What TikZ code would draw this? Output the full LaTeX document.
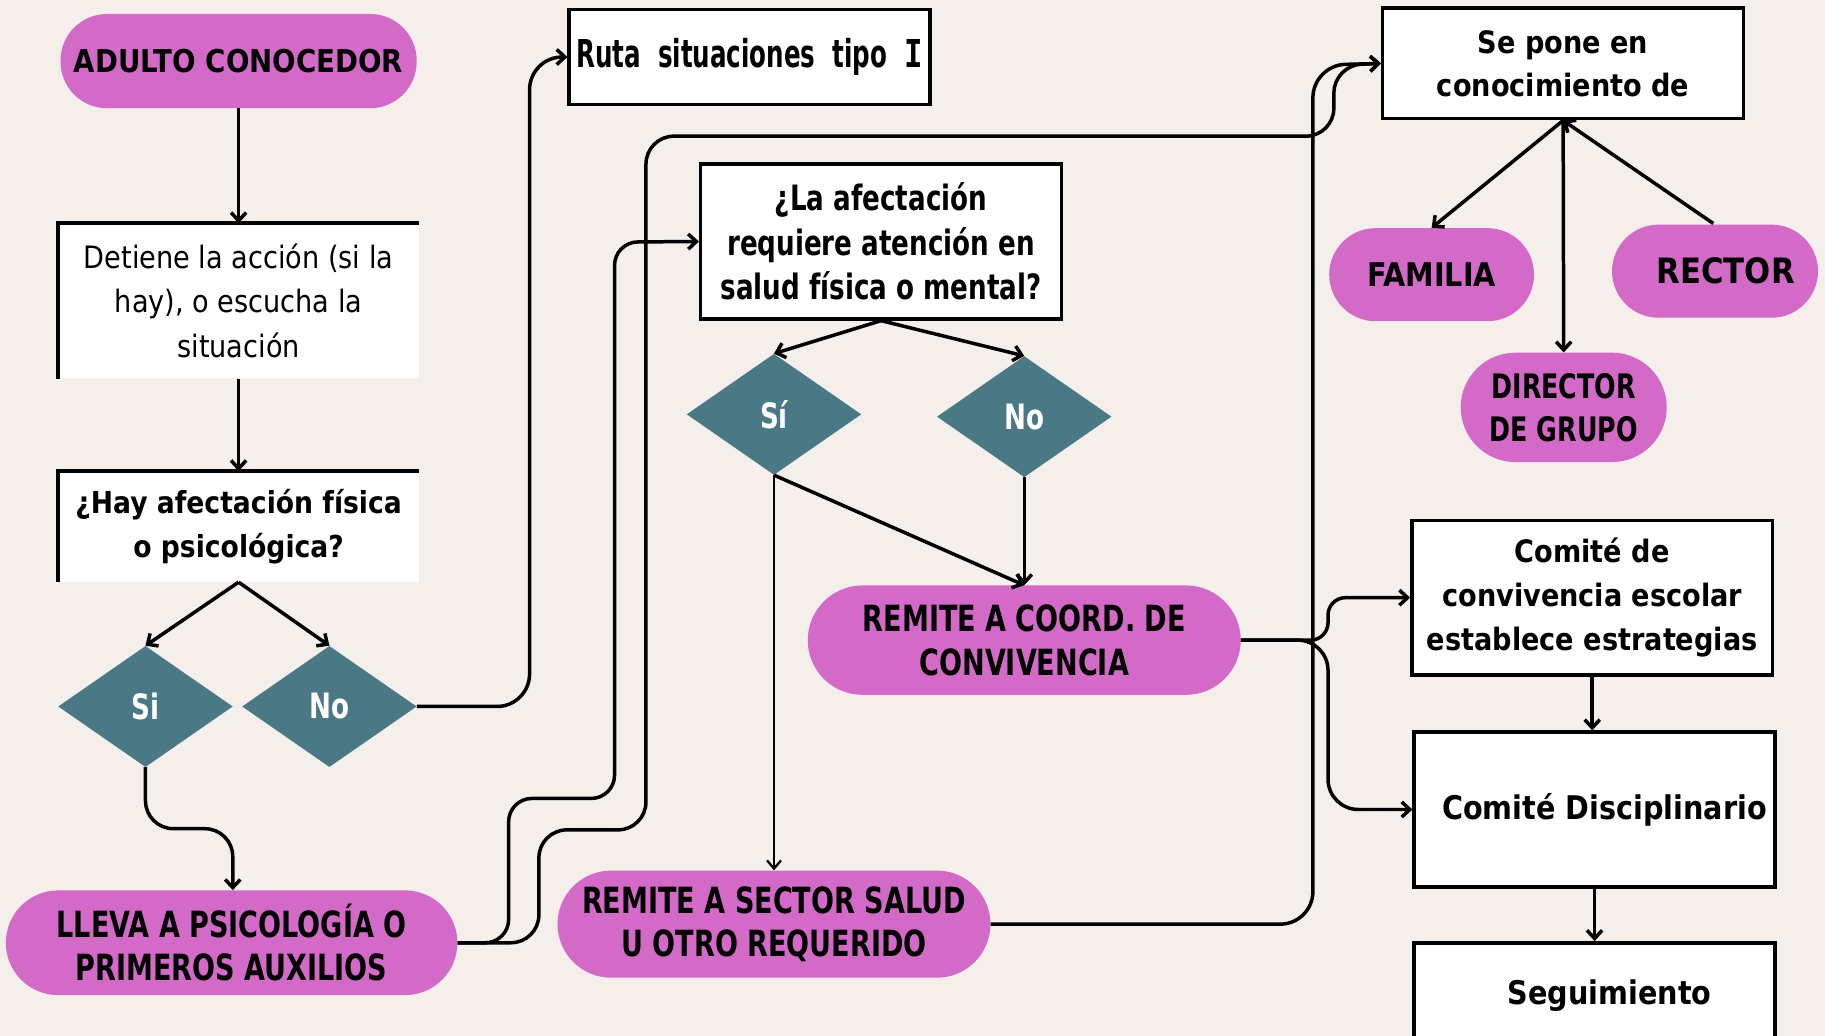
\documentclass[tikz,border=0pt]{standalone}
\usepackage{fontspec}
\setmainfont{DejaVu Sans}
\newfontfamily\fS[FakeStretch=0.64]{DejaVu Sans}
\newfontfamily\fC[FakeStretch=0.75]{DejaVu Sans}
\newfontfamily\fM[FakeStretch=0.88]{DejaVu Sans}
\newfontfamily\fmono[FakeStretch=0.8]{DejaVu Sans Mono}
\newcommand\fz[2]{\fontsize{#1}{#2}\selectfont}
\usetikzlibrary{shapes.geometric,arrows.meta,calc}
\definecolor{bgc}{HTML}{F4EFEB}
\definecolor{pinkc}{HTML}{D46AC7}
\definecolor{tealc}{HTML}{4A7884}
\begin{document}
\begin{tikzpicture}[x=1pt,y=-1pt,
  every node/.style={inner sep=0pt, align=center},
  pill/.style={fill=pinkc, rounded corners=40pt},
  wbox/.style={fill=white, draw=black, line width=3pt},
  dia/.style={diamond, fill=tealc, text=white, minimum width=150pt, minimum height=104pt, font=\fC\bfseries\fz{30}{34}},
  conn/.style={line width=3pt, -{Straight Barb[length=7pt,width=13pt]}},
  thinconn/.style={line width=2pt, -{Straight Barb[length=7pt,width=12pt]}},
  plain/.style={line width=3pt},
]
\useasboundingbox (0,0) rectangle (1568,890);
\fill[bgc] (0,0) rectangle (1568,890);

% left column
\node[pill, minimum width=306pt, minimum height=81pt, font=\fM\bfseries\fz{27}{30}] (adulto) at (205,52.5) {ADULTO CONOCEDOR};
\node[fill=white, minimum width=310pt, minimum height=133pt, font=\fM\fz{26.5}{38}] (det) at (205,258.5) {Detiene la acción (si la\\hay), o escucha la\\situación};
\draw[plain] (det.south west) -- (det.north west) -- (det.north east);
\node[fill=white, minimum width=310pt, minimum height=95pt, font=\fM\bfseries\fz{26}{38}] (hay) at (205,452.5) {¿Hay afectación física\\o psicológica?};
\draw[plain] (hay.south west) -- (hay.north west) -- (hay.north east);
\node[dia] (si1) at (125,607) {Si};
\node[dia] (no1) at (283,607) {No};
\node[pill, minimum width=388pt, minimum height=90pt, rounded corners=45pt, font=\fC\bfseries\fz{31}{37}] (lleva) at (199,810) {LLEVA A PSICOLOGÍA O\\PRIMEROS AUXILIOS};

% middle column
\node[wbox, minimum width=310pt, minimum height=82pt, font=\fS\bfseries\fz{33}{36}] (ruta) at (644,49) {Ruta\ \ situaciones\ \ tipo\ \ {\fmono\bfseries I}};
\node[wbox, minimum width=310pt, minimum height=133pt, font=\fC\bfseries\fz{30}{38}] (lafect) at (757,207.5) {¿La afectación\\requiere atención en\\salud física o mental?};
\node[dia] (si2) at (665,356) {Sí};
\node[dia] (no2) at (880,358) {No};
\node[pill, minimum width=372pt, minimum height=94pt, rounded corners=47pt, font=\fC\bfseries\fz{31}{38}] (coord) at (880,550) {REMITE A COORD. DE\\CONVIVENCIA};
\node[pill, minimum width=372pt, minimum height=92pt, rounded corners=46pt, font=\fC\bfseries\fz{31}{37}] (sector) at (665,794) {REMITE A SECTOR SALUD\\U OTRO REQUERIDO};

% right column
\node[wbox, minimum width=310pt, minimum height=95pt, font=\fM\bfseries\fz{26.5}{37}] (sepone) at (1343,54.5) {Se pone en\\conocimiento de};
\node[pill, minimum width=176pt, minimum height=80pt, font=\fM\bfseries\fz{28}{30}] (familia) at (1230,236) {FAMILIA};
\node[pill, minimum width=177pt, minimum height=80pt, font=\fM\bfseries\fz{30}{32}] (rector) at (1473.5,233) {\ \ RECTOR};
\node[pill, minimum width=177pt, minimum height=94pt, rounded corners=47pt, font=\fC\bfseries\fz{29}{37}] (director) at (1343.5,350) {DIRECTOR\\DE GRUPO};
\node[wbox, minimum width=310pt, minimum height=133pt, font=\fM\bfseries\fz{26.5}{38}] (cconv) at (1368,513.5) {Comité de\\convivencia escolar\\establece estrategias};
\node[wbox, minimum width=310pt, minimum height=133pt, font=\fM\bfseries\fz{28}{32}] (cdisc) at (1370,695.5) {\ \ Comité Disciplinario};
\node[wbox, minimum width=310pt, minimum height=90pt, font=\fM\bfseries\fz{28}{32}] (seg) at (1370,855) {\ \ \ Seguimiento};

% connectors
\draw[conn] (adulto.south) -- (det.north);
\draw[conn] (det.south) -- (hay.north);
\draw[conn] (hay.south) -- (si1.north);
\draw[conn] (hay.south) -- (no1.north);
\draw[conn, rounded corners=28pt] (no1.east) -- (455,607) -- (455,49) -- (ruta.west);
\draw[conn, rounded corners=24pt] (si1.south) -- (125,712) -- (200,712) -- (lleva.north -| 200,0);
\draw[conn, rounded corners=20pt] (lleva.east) -- (437,810) -- (437,686) -- (528,686) -- (528,208) -- (lafect.west);
\draw[conn, rounded corners=24pt] (lleva.east) -- (463,810) -- (463,713) -- (555,713) -- (555,117) -- (1146,117) -- (1146,56) -- (sepone.west);
\draw[conn, rounded corners=28pt] (sector.east) -- (1128,794) -- (1128,56) -- (sepone.west);
\draw[conn] (lafect.south) -- (si2.north);
\draw[conn] (lafect.south) -- (no2.north);
\draw[thinconn] (si2.south) -- (sector.north);
\draw[conn] (si2.south) -- (coord.north);
\draw[conn] (no2.south) -- (coord.north);
\draw[conn, rounded corners=15pt] (coord.east) -- (1141,550) -- (1141,513.5) -- (cconv.west);
\draw[conn, rounded corners=26pt] (coord.east) -- (1141,550) -- (1141,695.5) -- (cdisc.west);
\draw[conn] (cconv.south) -- (cconv.south |- cdisc.north);
\draw[conn] (cdisc.south) -- (seg.north);
\draw[conn] (sepone.south) -- (familia.north);
\draw[conn] (sepone.south) -- (director.north);
\draw[conn] (1472,192) -- (sepone.south);
\end{tikzpicture}
\end{document}
